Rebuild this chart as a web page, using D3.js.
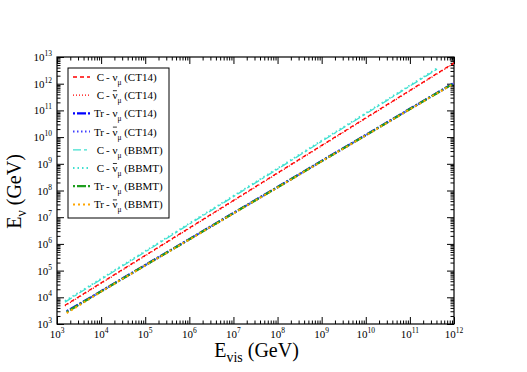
<!DOCTYPE html>
<html>
<head>
<meta charset="utf-8">
<script src="https://cdn.jsdelivr.net/npm/d3@7"></script>
<style>
body { margin: 0; background: #fff; }
svg { font-family: "Liberation Serif", "DejaVu Serif", serif; }
</style>
</head>
<body>
<div id="chart-container"></div>
<script>
// values, as log10(E)
var evisC = [3.18, 4, 5, 6, 7, 8, 9, 10, 11, 12];
var evisCbb = [3.18, 4, 5, 6, 7, 8, 9, 10, 11, 11.65];
var evisTr = [3.22, 4, 5, 6, 7, 8, 9, 10, 11, 12];

var cNuCT14 = [3.70, 4.54, 5.57, 6.60, 7.63, 8.66, 9.69, 10.72, 11.75, 12.78];
var cNubarCT14 = [3.68, 4.52, 5.55, 6.58, 7.61, 8.64, 9.67, 10.70, 11.73, 12.76];
var trNuCT14 = [3.48, 4.23, 5.21, 6.18, 7.16, 8.13, 9.11, 10.08, 11.06, 12.03];
var trNubarCT14 = [3.46, 4.22, 5.20, 6.17, 7.15, 8.12, 9.10, 10.07, 11.05, 12.02];
var cNuBBMT = [3.82, 4.67, 5.70, 6.74, 7.77, 8.80, 9.84, 10.87, 11.91, 12.58];
var cNubarBBMT = [3.86, 4.70, 5.73, 6.77, 7.80, 8.83, 9.87, 10.90, 11.94, 12.61];
var trNuBBMT = [3.45, 4.22, 5.20, 6.17, 7.15, 8.12, 9.10, 10.07, 11.05, 12.02];
var trNubarBBMT = [3.41, 4.21, 5.19, 6.16, 7.14, 8.11, 9.09, 10.06, 11.04, 12.01];

var xTickExp = [3, 4, 5, 6, 7, 8, 9, 10, 11, 12];
var yTickExp = [3, 4, 5, 6, 7, 8, 9, 10, 11, 12, 13];

var legendPrefix = ["C", "C", "Tr", "Tr", "C", "C", "Tr", "Tr"];
var legendBar = [false, true, false, true, false, true, false, true];
var legendSet = ["(CT14)", "(CT14)", "(CT14)", "(CT14)", "(BBMT)", "(BBMT)", "(BBMT)", "(BBMT)"];

var series = [
    {x: evisC, y: cNuCT14, color: "#ff0000", dash: "4,3", w: 1.3},
    {x: evisC, y: cNubarCT14, color: "#ff0000", dash: "1,2", w: 1.3},
    {x: evisTr, y: trNuCT14, color: "#0000ff", dash: "2,2,9,2", w: 2.2},
    {x: evisTr, y: trNubarCT14, color: "#4040ff", dash: "1.5,2.5", w: 2},
    {x: evisCbb, y: cNuBBMT, color: "#40e0d0", dash: "8,3,3,3", w: 1.3},
    {x: evisCbb, y: cNubarBBMT, color: "#40e0d0", dash: "1.5,3", w: 1.8},
    {x: evisTr, y: trNuBBMT, color: "#1e9e1e", dash: "2,2,9,2", w: 2.2},
    {x: evisTr, y: trNubarBBMT, color: "#ffa500", dash: "2,3", w: 2}
];

var margin = {top: 57, right: 73, bottom: 48, left: 57},
    width = 527 - margin.left - margin.right,
    height = 372 - margin.top - margin.bottom;

var svg = d3.select("#chart-container")
    .append("svg")
    .attr("width", 527)
    .attr("height", 372)
    .append("g")
    .attr("transform", "translate(" + margin.left + "," + margin.top + ")");

var x = d3.scaleLog().domain([1e3, 1e12]).range([0, width]);
var y = d3.scaleLog().domain([1e3, 1e13]).range([height, 0]);

// minor ticks 2..9 in every decade
function minors(lo, hi) {
    var out = [];
    for (var e = lo; e < hi; e++) {
        for (var m = 2; m <= 9; m++) out.push(m * Math.pow(10, e));
    }
    return out;
}
var xMajor = xTickExp.map(function(e) { return Math.pow(10, e); });
var yMajor = yTickExp.map(function(e) { return Math.pow(10, e); });

function tickAxis(axis, vals, size, transform) {
    svg.append("g")
        .attr("class", "tick-axis")
        .attr("transform", transform)
        .call(axis.tickValues(vals).tickSize(size).tickFormat(""));
}
tickAxis(d3.axisBottom(x), xMajor, -7, "translate(0," + height + ")");
tickAxis(d3.axisBottom(x), minors(3, 12), -3.5, "translate(0," + height + ")");
tickAxis(d3.axisTop(x), xMajor, -7, "translate(0,0)");
tickAxis(d3.axisTop(x), minors(3, 12), -3.5, "translate(0,0)");
tickAxis(d3.axisLeft(y), yMajor, -7, "translate(0,0)");
tickAxis(d3.axisLeft(y), minors(3, 13), -3.5, "translate(0,0)");
tickAxis(d3.axisRight(y), yMajor, -7, "translate(" + width + ",0)");
tickAxis(d3.axisRight(y), minors(3, 13), -3.5, "translate(" + width + ",0)");
svg.selectAll(".tick-axis path.domain").remove();
svg.selectAll(".tick-axis line").attr("stroke", "#000").attr("stroke-width", 1);

svg.append("rect")
    .attr("width", width)
    .attr("height", height)
    .attr("fill", "none")
    .attr("stroke", "#000")
    .attr("stroke-width", 1.2);

// tick labels, 10 with superscript exponent
xTickExp.forEach(function(e) {
    var t = svg.append("text")
        .attr("x", x(Math.pow(10, e)))
        .attr("y", height + 14)
        .attr("text-anchor", "middle")
        .style("font-size", "11px");
    t.append("tspan").text("10");
    t.append("tspan").attr("dy", -5).style("font-size", "7.5px").text(e);
});
yTickExp.forEach(function(e) {
    var t = svg.append("text")
        .attr("x", -5)
        .attr("y", y(Math.pow(10, e)) + 4)
        .attr("text-anchor", "end")
        .style("font-size", "11px");
    t.append("tspan").text("10");
    t.append("tspan").attr("dy", -5).style("font-size", "7.5px").text(e);
});

// axis titles
var xt = svg.append("text")
    .attr("x", width / 2 + 1)
    .attr("y", height + 33)
    .attr("text-anchor", "middle")
    .style("font-size", "20px");
xt.append("tspan").text("E");
xt.append("tspan").attr("dy", 5).style("font-size", "14px").text("vis");
xt.append("tspan").attr("dy", -5).text(" (GeV)");

var yt = svg.append("text")
    .attr("transform", "rotate(-90)")
    .attr("x", -(height / 2) - 1)
    .attr("y", -36)
    .attr("text-anchor", "middle")
    .style("font-size", "20px");
yt.append("tspan").text("E");
yt.append("tspan").attr("dy", 5).style("font-size", "14px").text("\u03bd");
yt.append("tspan").attr("dy", -5).text(" (GeV)");

// curves
svg.append("clipPath").attr("id", "plot-clip")
    .append("rect").attr("width", width).attr("height", height);

var line = d3.line()
    .x(function(d) { return x(Math.pow(10, d[0])); })
    .y(function(d) { return y(Math.pow(10, d[1])); });

series.forEach(function(s) {
    var pts = s.x.map(function(v, i) { return [v, s.y[i]]; });
    svg.append("path")
        .datum(pts)
        .attr("clip-path", "url(#plot-clip)")
        .attr("fill", "none")
        .attr("stroke", s.color)
        .attr("stroke-width", s.w)
        .attr("stroke-dasharray", s.dash)
        .attr("d", line);
});

// legend
var lg = svg.append("g").attr("transform", "translate(11,11)");
lg.append("rect")
    .attr("width", 101)
    .attr("height", 150)
    .attr("fill", "#fff")
    .attr("stroke", "#000")
    .attr("stroke-width", 1);

series.forEach(function(s, i) {
    var cy = 9 + i * 18.2;
    lg.append("line")
        .attr("x1", 5).attr("x2", 22)
        .attr("y1", cy).attr("y2", cy)
        .attr("stroke", s.color)
        .attr("stroke-width", s.w)
        .attr("stroke-dasharray", s.dash);
    lg.append("text")
        .attr("x", 36)
        .attr("y", cy + 4)
        .attr("text-anchor", "end")
        .style("font-size", "11px")
        .text(legendPrefix[i]);
    var t = lg.append("text")
        .attr("x", 38)
        .attr("y", cy + 4)
        .style("font-size", "11px");
    t.append("tspan").text("- \u03bd");
    t.append("tspan").attr("dy", 4).style("font-size", "7.5px").text("\u03bc");
    t.append("tspan").attr("dy", -4).text("  " + legendSet[i]);
    if (legendBar[i]) {
        // bar over the nu
        var n = t.node();
        var x0 = n.getStartPositionOfChar(2).x, x1 = n.getEndPositionOfChar(2).x;
        lg.append("line")
            .attr("x1", x0 + 0.5).attr("x2", x1 - 0.5)
            .attr("y1", cy - 4.5).attr("y2", cy - 4.5)
            .attr("stroke", "#000")
            .attr("stroke-width", 0.8);
    }
});
</script>
</body>
</html>
